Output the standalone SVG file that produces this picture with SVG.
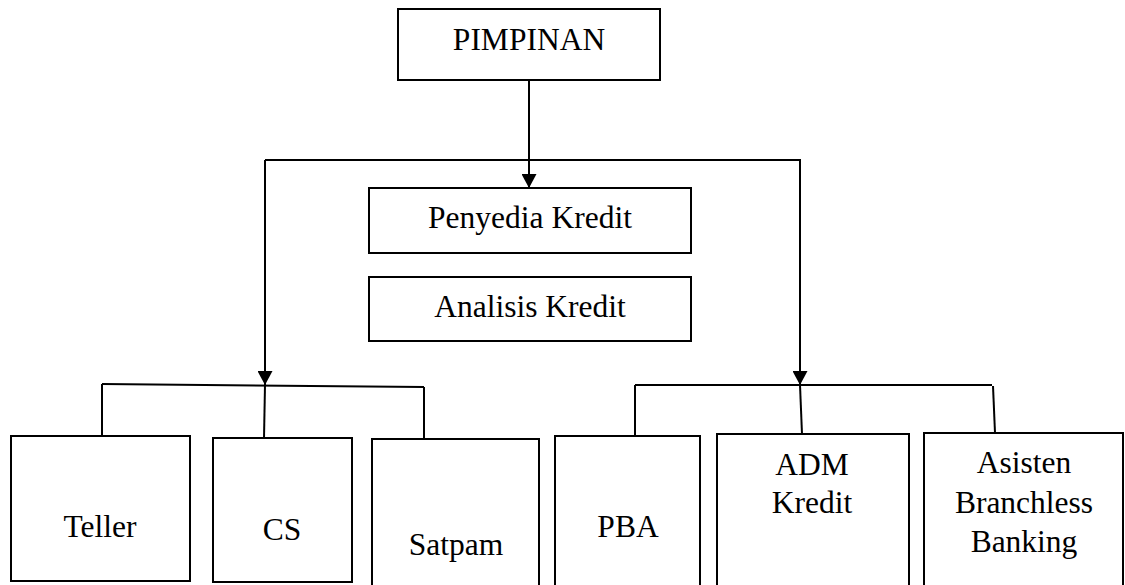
<svg xmlns="http://www.w3.org/2000/svg" width="1125" height="585" viewBox="0 0 1125 585">
<style>
.box{fill:#fff;stroke:#000;stroke-width:2}
.ln{fill:none;stroke:#000;stroke-width:2}
.t{font-family:'Liberation Serif','Times New Roman',Times,serif;font-size:31.5px;fill:#000;text-anchor:middle}
</style>
<defs>
<marker id="arr" markerUnits="userSpaceOnUse" markerWidth="14" markerHeight="15" refX="14" refY="7.5" orient="auto">
<path d="M0,0 L14,7.5 L0,15 z" fill="#000"/>
</marker>
</defs>
<rect width="1125" height="585" fill="#fff"/>
<g id="connectors">
<path class="ln" d="M529,80 V188" marker-end="url(#arr)"/>
<path class="ln" d="M265,160 H800"/>
<path class="ln" d="M265,160 V385" marker-end="url(#arr)"/>
<path class="ln" d="M800,159 V385" marker-end="url(#arr)"/>
<path class="ln" d="M102,384 L424,387"/>
<path class="ln" d="M102,384 V436"/>
<path class="ln" d="M265,385 L264,438"/>
<path class="ln" d="M424,387 V439"/>
<path class="ln" d="M635,385 H992"/>
<path class="ln" d="M635,385 V436"/>
<path class="ln" d="M800,385 L802,434"/>
<path class="ln" d="M993,386 L995,433"/>
</g>
<g id="pimpinan"><rect class="box" x="398" y="9" width="262" height="71"/><text class="t" x="529" y="50">PIMPINAN</text></g>
<g id="penyedia"><rect class="box" x="369" y="188" width="322" height="65"/><text class="t" x="530" y="228">Penyedia Kredit</text></g>
<g id="analisis"><rect class="box" x="369" y="277" width="322" height="64"/><text class="t" x="530" y="317">Analisis Kredit</text></g>
<g id="teller"><rect class="box" x="11" y="436" width="179" height="145"/><text class="t" x="100" y="537">Teller</text></g>
<g id="cs"><rect class="box" x="213" y="438" width="139" height="144"/><text class="t" x="282" y="540">CS</text></g>
<g id="satpam"><rect class="box" x="372" y="439" width="167" height="160"/><text class="t" x="456" y="555">Satpam</text></g>
<g id="pba"><rect class="box" x="555" y="436" width="145" height="163"/><text class="t" x="628" y="537">PBA</text></g>
<g id="adm"><rect class="box" x="717" y="434" width="192" height="165"/><text class="t" x="812" y="475">ADM</text><text class="t" x="812" y="513">Kredit</text></g>
<g id="asisten"><rect class="box" x="924" y="433" width="199" height="166"/><text class="t" x="1024" y="473">Asisten</text><text class="t" x="1024" y="513">Branchless</text><text class="t" x="1024" y="552">Banking</text></g>
</svg>
